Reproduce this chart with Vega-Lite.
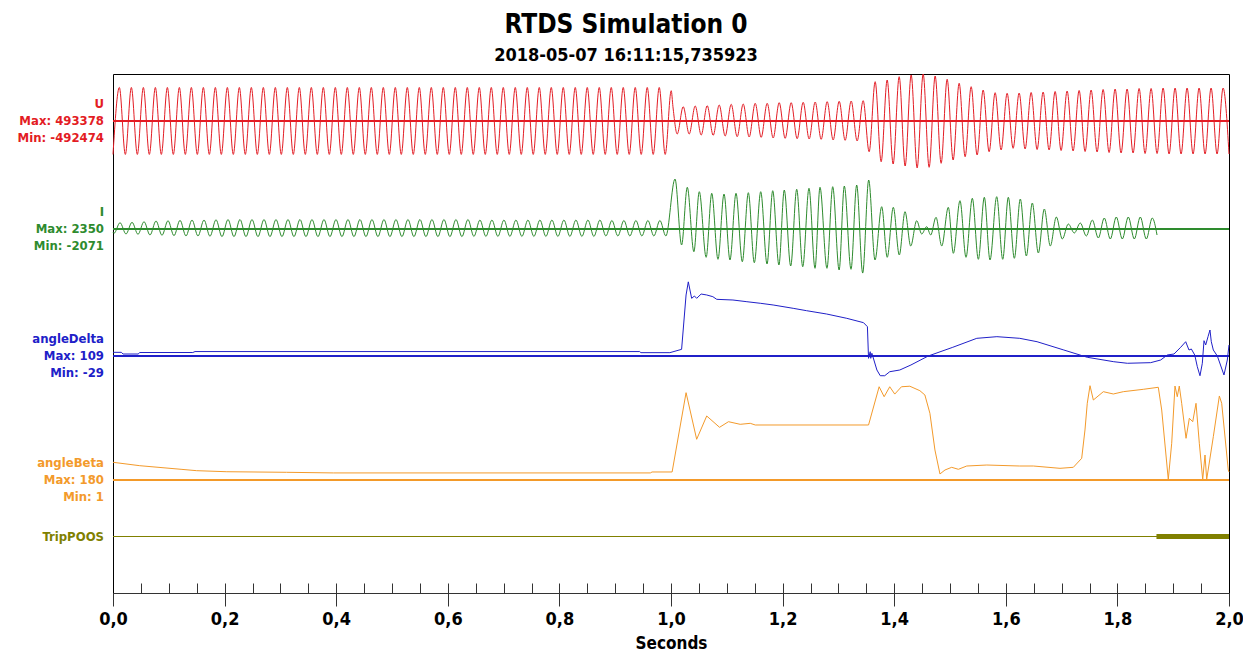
{
"$schema": "https://vega.github.io/schema/vega-lite/v6.json",
"autosize": {"type": "none"},
"padding": {"left": 113, "top": 74, "right": 14, "bottom": 58},
"width": 1116,
"height": 519,
"background": "white",
"config": {"font": "DejaVu Sans Condensed, DejaVu Sans", "view": {"stroke": "#000000", "strokeWidth": 1}},
"title": {"text": "RTDS Simulation 0", "subtitle": "2018-05-07 16:11:15,735923", "font": "DejaVu Sans Condensed, DejaVu Sans", "subtitleFont": "DejaVu Sans Condensed, DejaVu Sans", "fontSize": 26, "subtitleFontSize": 18, "fontWeight": "bold", "subtitleFontWeight": "bold", "color": "#000000", "subtitleColor": "#000000", "anchor": "middle", "frame": "group", "dx": -45, "offset": 7, "subtitlePadding": 9},
"datasets": {
"U": [
{"t":0,"v":-351000},{"t":0.0114,"v":352000},{"t":0.0221,"v":-351000},{"t":0.0329,"v":352000},{"t":0.0436,"v":-351000},{"t":0.0544,"v":352000},{"t":0.0651,"v":-351000},{"t":0.0759,"v":352000},{"t":0.0866,"v":-351000},{"t":0.0974,"v":352000},
{"t":0.1081,"v":-351000},{"t":0.1189,"v":352000},{"t":0.1296,"v":-351000},{"t":0.1404,"v":352000},{"t":0.1511,"v":-351000},{"t":0.1619,"v":352000},{"t":0.1726,"v":-351000},{"t":0.1834,"v":352000},{"t":0.1941,"v":-351000},{"t":0.2049,"v":352000},
{"t":0.2156,"v":-351000},{"t":0.2264,"v":352000},{"t":0.2371,"v":-351000},{"t":0.2479,"v":352000},{"t":0.2586,"v":-351000},{"t":0.2694,"v":352000},{"t":0.2801,"v":-351000},{"t":0.2909,"v":352000},{"t":0.3016,"v":-351000},{"t":0.3124,"v":352000},
{"t":0.3231,"v":-351000},{"t":0.3339,"v":352000},{"t":0.3446,"v":-351000},{"t":0.3554,"v":352000},{"t":0.3661,"v":-351000},{"t":0.3769,"v":352000},{"t":0.3876,"v":-351000},{"t":0.3984,"v":352000},{"t":0.4091,"v":-351000},{"t":0.4199,"v":352000},
{"t":0.4306,"v":-351000},{"t":0.4414,"v":352000},{"t":0.4521,"v":-351000},{"t":0.4629,"v":352000},{"t":0.4736,"v":-351000},{"t":0.4844,"v":352000},{"t":0.4951,"v":-351000},{"t":0.5059,"v":352000},{"t":0.5166,"v":-351000},{"t":0.5274,"v":352000},
{"t":0.5381,"v":-351000},{"t":0.5489,"v":352000},{"t":0.5596,"v":-351000},{"t":0.5704,"v":352000},{"t":0.5811,"v":-351000},{"t":0.5919,"v":352000},{"t":0.6026,"v":-351000},{"t":0.6134,"v":352000},{"t":0.6241,"v":-351000},{"t":0.6349,"v":352000},
{"t":0.6456,"v":-351000},{"t":0.6564,"v":352000},{"t":0.6671,"v":-351000},{"t":0.6779,"v":352000},{"t":0.6886,"v":-351000},{"t":0.6994,"v":352000},{"t":0.7101,"v":-351000},{"t":0.7209,"v":352000},{"t":0.7316,"v":-351000},{"t":0.7424,"v":352000},
{"t":0.7531,"v":-351000},{"t":0.7639,"v":352000},{"t":0.7746,"v":-351000},{"t":0.7854,"v":352000},{"t":0.7961,"v":-351000},{"t":0.8069,"v":352000},{"t":0.8176,"v":-351000},{"t":0.8284,"v":352000},{"t":0.8391,"v":-351000},{"t":0.8499,"v":352000},
{"t":0.8606,"v":-351000},{"t":0.8714,"v":352000},{"t":0.8821,"v":-351000},{"t":0.8929,"v":352000},{"t":0.9036,"v":-351000},{"t":0.9144,"v":352000},{"t":0.9251,"v":-351000},{"t":0.9359,"v":352000},{"t":0.9466,"v":-351000},{"t":0.9574,"v":352000},
{"t":0.9681,"v":-351000},{"t":0.9789,"v":352000},{"t":0.9896,"v":-351000},{"t":1.0004,"v":318000},{"t":1.0035,"v":150000},
{"t":1.0111,"v":-136500},{"t":1.0219,"v":150000},{"t":1.0326,"v":-136500},{"t":1.0434,"v":157500},{"t":1.0541,"v":-147000},{"t":1.0649,"v":160700},{"t":1.0756,"v":-150200},{"t":1.0864,"v":168000},
{"t":1.0971,"v":-157500},{"t":1.1079,"v":175400},{"t":1.1186,"v":-164900},{"t":1.1294,"v":178500},{"t":1.1401,"v":-168000},{"t":1.1509,"v":185900},{"t":1.1616,"v":-171200},{"t":1.1724,"v":185900},
{"t":1.1831,"v":-178500},{"t":1.1939,"v":192200},{"t":1.2046,"v":-181700},{"t":1.2154,"v":192200},{"t":1.2261,"v":-185900},{"t":1.2369,"v":196400},{"t":1.2476,"v":-189000},{"t":1.2584,"v":199500},
{"t":1.2691,"v":-192200},{"t":1.2799,"v":202700},{"t":1.2906,"v":-199500},{"t":1.3014,"v":206900},{"t":1.3121,"v":-202700},{"t":1.3229,"v":210000},{"t":1.3336,"v":-210000},{"t":1.3444,"v":213200},
{"t":1.3551,"v":-322400},{"t":1.3659,"v":412700},{"t":1.3766,"v":-427400},{"t":1.3874,"v":430500},{"t":1.3981,"v":-451500},{"t":1.4089,"v":465200},{"t":1.4196,"v":-472500},{"t":1.4304,"v":483000},
{"t":1.4411,"v":-492474},{"t":1.4519,"v":493378},{"t":1.4626,"v":-486200},{"t":1.4734,"v":472500},{"t":1.4841,"v":-444200},{"t":1.4949,"v":437900},{"t":1.5056,"v":-409500},{"t":1.5164,"v":395900},
{"t":1.5271,"v":-374900},{"t":1.5379,"v":360200},{"t":1.5486,"v":-357000},{"t":1.5594,"v":325500},{"t":1.5701,"v":-322400},{"t":1.5809,"v":297200},{"t":1.5916,"v":-304500},{"t":1.6024,"v":290900},
{"t":1.6131,"v":-286700},{"t":1.6239,"v":294000},{"t":1.6346,"v":-294000},{"t":1.6454,"v":299300},{"t":1.6561,"v":-299300},{"t":1.6669,"v":304500},{"t":1.6776,"v":-304500},{"t":1.6884,"v":309800},
{"t":1.6991,"v":-309800},{"t":1.7099,"v":315000},{"t":1.7206,"v":-315000},{"t":1.7314,"v":320300},{"t":1.7421,"v":-320300},{"t":1.7529,"v":325500},{"t":1.7636,"v":-325500},{"t":1.7744,"v":330800},
{"t":1.7851,"v":-330800},{"t":1.7959,"v":336000},{"t":1.8066,"v":-336000},{"t":1.8174,"v":336000},{"t":1.8281,"v":-336000},{"t":1.8389,"v":341300},{"t":1.8496,"v":-341300},{"t":1.8604,"v":341300},
{"t":1.8711,"v":-341300},{"t":1.8819,"v":346500},{"t":1.8926,"v":-346500},{"t":1.9034,"v":346500},{"t":1.9141,"v":-346500},{"t":1.9249,"v":346500},{"t":1.9356,"v":-346500},{"t":1.9464,"v":346500},
{"t":1.9571,"v":-346500},{"t":1.9679,"v":346500},{"t":1.9786,"v":-346500},{"t":1.9894,"v":346500},{"t":2.0,"v":-346500}
],
"I": [
{"t":0,"v":-150},{"t":0.0018,"v":-202},{"t":0.0126,"v":296},{"t":0.0233,"v":-235},{"t":0.0341,"v":315},{"t":0.0448,"v":-249},{"t":0.0556,"v":343},{"t":0.0663,"v":-282},{"t":0.0771,"v":376},
{"t":0.0878,"v":-296},{"t":0.0986,"v":390},{"t":0.1093,"v":-315},{"t":0.1201,"v":409},{"t":0.1308,"v":-329},{"t":0.1416,"v":423},{"t":0.1523,"v":-329},{"t":0.1631,"v":423},{"t":0.1738,"v":-343},{"t":0.1846,"v":437},
{"t":0.1953,"v":-362},{"t":0.2061,"v":447},{"t":0.2168,"v":-362},{"t":0.2276,"v":447},{"t":0.2383,"v":-362},{"t":0.2491,"v":447},{"t":0.2598,"v":-362},{"t":0.2706,"v":447},{"t":0.2813,"v":-362},{"t":0.2921,"v":447},
{"t":0.3028,"v":-362},{"t":0.3136,"v":447},{"t":0.3243,"v":-362},{"t":0.3351,"v":447},{"t":0.3458,"v":-362},{"t":0.3566,"v":447},{"t":0.3673,"v":-362},{"t":0.3781,"v":447},{"t":0.3888,"v":-362},{"t":0.3996,"v":447},
{"t":0.4103,"v":-362},{"t":0.4211,"v":447},{"t":0.4318,"v":-362},{"t":0.4426,"v":447},{"t":0.4533,"v":-362},{"t":0.4641,"v":447},{"t":0.4748,"v":-362},{"t":0.4856,"v":447},{"t":0.4963,"v":-362},{"t":0.5071,"v":447},
{"t":0.5178,"v":-362},{"t":0.5286,"v":447},{"t":0.5393,"v":-362},{"t":0.5501,"v":447},{"t":0.5608,"v":-362},{"t":0.5716,"v":447},{"t":0.5823,"v":-362},{"t":0.5931,"v":447},{"t":0.6038,"v":-362},{"t":0.6146,"v":447},
{"t":0.6253,"v":-362},{"t":0.6361,"v":447},{"t":0.6468,"v":-350},{"t":0.6576,"v":423},{"t":0.6683,"v":-350},{"t":0.6791,"v":423},{"t":0.6898,"v":-350},{"t":0.7006,"v":423},{"t":0.7113,"v":-350},{"t":0.7221,"v":423},
{"t":0.7328,"v":-350},{"t":0.7436,"v":423},{"t":0.7543,"v":-350},{"t":0.7651,"v":423},{"t":0.7758,"v":-350},{"t":0.7866,"v":423},{"t":0.7973,"v":-350},{"t":0.8081,"v":423},{"t":0.8188,"v":-350},{"t":0.8296,"v":423},
{"t":0.8403,"v":-350},{"t":0.8511,"v":423},{"t":0.8618,"v":-350},{"t":0.8726,"v":423},{"t":0.8833,"v":-329},{"t":0.8941,"v":400},{"t":0.9048,"v":-329},{"t":0.9156,"v":400},{"t":0.9263,"v":-329},{"t":0.9371,"v":400},
{"t":0.9478,"v":-329},{"t":0.9586,"v":400},{"t":0.9693,"v":-329},{"t":0.9801,"v":400},{"t":0.9908,"v":-329},
{"t":1.0072,"v":2350},{"t":1.019,"v":-752},{"t":1.0292,"v":1960},{"t":1.041,"v":-1067},{"t":1.0507,"v":1753},{"t":1.063,"v":-1330},{"t":1.073,"v":1678},{"t":1.0842,"v":-1424},
{"t":1.095,"v":1645},{"t":1.1057,"v":-1457},{"t":1.1165,"v":1678},{"t":1.1278,"v":-1537},{"t":1.1386,"v":1706},{"t":1.1493,"v":-1584},{"t":1.1608,"v":1753},{"t":1.1721,"v":-1645},
{"t":1.1823,"v":1800},{"t":1.1934,"v":-1692},{"t":1.203,"v":1833},{"t":1.2145,"v":-1739},{"t":1.2253,"v":1866},{"t":1.2361,"v":-1772},{"t":1.2473,"v":1913},{"t":1.2581,"v":-1847},
{"t":1.267,"v":1960},{"t":1.2795,"v":-1847},{"t":1.2898,"v":1988},{"t":1.3013,"v":-1927},{"t":1.3106,"v":2021},{"t":1.3226,"v":-1894},{"t":1.3328,"v":2068},{"t":1.3435,"v":-2071},
{"t":1.3543,"v":2303},{"t":1.3656,"v":-1457},{"t":1.3776,"v":1048},{"t":1.3875,"v":-1330},{"t":1.3984,"v":1020},{"t":1.4091,"v":-1222},{"t":1.4194,"v":813},{"t":1.4296,"v":-799},
{"t":1.4403,"v":390},{"t":1.4493,"v":-235},{"t":1.4582,"v":108},{"t":1.4654,"v":-282},{"t":1.4749,"v":550},{"t":1.4852,"v":-799},{"t":1.497,"v":1020},{"t":1.506,"v":-1142},
{"t":1.5179,"v":1330},{"t":1.5287,"v":-1330},{"t":1.54,"v":1443},{"t":1.5508,"v":-1424},{"t":1.5615,"v":1490},{"t":1.5717,"v":-1457},{"t":1.5837,"v":1518},{"t":1.5945,"v":-1424},
{"t":1.6045,"v":1490},{"t":1.6153,"v":-1377},{"t":1.626,"v":1410},{"t":1.6368,"v":-1269},{"t":1.6475,"v":1222},{"t":1.6583,"v":-1128},{"t":1.669,"v":940},{"t":1.6798,"v":-799},
{"t":1.6905,"v":564},{"t":1.7013,"v":-470},{"t":1.712,"v":235},{"t":1.7228,"v":-188},{"t":1.7335,"v":282},{"t":1.7443,"v":-329},{"t":1.755,"v":423},{"t":1.7658,"v":-423},
{"t":1.7765,"v":517},{"t":1.7873,"v":-470},{"t":1.798,"v":564},{"t":1.8088,"v":-470},{"t":1.8195,"v":564},{"t":1.8303,"v":-470},{"t":1.841,"v":564},{"t":1.8518,"v":-470},
{"t":1.8625,"v":517},{"t":1.871,"v":-282}
],
"angleDelta": [
{"t":0,"v":5.4},{"t":0.015,"v":5.4},{"t":0.018,"v":2.9},{"t":0.045,"v":2.9},{"t":0.048,"v":5.1},{"t":0.143,"v":5.1},{"t":0.147,"v":6.5},{"t":0.944,"v":6.5},{"t":0.946,"v":4.9},{"t":0.998,"v":4.9},
{"t":1.019,"v":9.8},{"t":1.027,"v":89.7},{"t":1.031,"v":109},{"t":1.037,"v":84.8},{"t":1.042,"v":88.2},{"t":1.046,"v":84.8},{"t":1.054,"v":91.1},{"t":1.064,"v":89.7},{"t":1.075,"v":87.2},{"t":1.082,"v":83.3},
{"t":1.111,"v":82.3},{"t":1.136,"v":79.8},{"t":1.16,"v":77.5},{"t":1.183,"v":75},{"t":1.219,"v":70.1},{"t":1.243,"v":66.6},{"t":1.279,"v":61.7},{"t":1.315,"v":55.4},{"t":1.345,"v":49},{"t":1.352,"v":43.1},
{"t":1.354,"v":-3.4},{"t":1.357,"v":6.3},{"t":1.358,"v":-3.4},{"t":1.36,"v":4},{"t":1.369,"v":-20.6},{"t":1.375,"v":-29},{"t":1.383,"v":-29},{"t":1.392,"v":-23.1},{"t":1.41,"v":-20.6},{"t":1.43,"v":-13.2},
{"t":1.461,"v":0},{"t":1.505,"v":12.8},{"t":1.548,"v":26},{"t":1.584,"v":28.4},{"t":1.625,"v":26},{"t":1.656,"v":21},{"t":1.704,"v":8.8},{"t":1.746,"v":-1.9},{"t":1.7935,"v":-8.4},{"t":1.8178,"v":-10.7},
{"t":1.8596,"v":-9.8},{"t":1.8776,"v":-5.9},{"t":1.8895,"v":1.5},{"t":1.9014,"v":2.9},{"t":1.9134,"v":12.8},{"t":1.9224,"v":21},{"t":1.9283,"v":8.8},{"t":1.9325,"v":10.3},{"t":1.9386,"v":1.5},{"t":1.9432,"v":-15.7},
{"t":1.948,"v":-29},{"t":1.9522,"v":-10.7},{"t":1.9552,"v":22.5},{"t":1.9582,"v":16.2},{"t":1.9624,"v":28.4},{"t":1.9659,"v":38.2},{"t":1.9683,"v":21},{"t":1.9719,"v":8.8},{"t":1.9791,"v":0},{"t":1.991,"v":-27.9},
{"t":1.997,"v":-5.9},{"t":2.0,"v":16.2}
],
"angleBeta": [
{"t":0,"v":33.8},{"t":0.048,"v":27.3},{"t":0.122,"v":20.4},{"t":0.15,"v":17.8},{"t":0.204,"v":15.8},{"t":0.311,"v":14.7},{"t":0.395,"v":13.5},{"t":0.963,"v":13.5},{"t":0.966,"v":15.3},{"t":1.002,"v":15.3},
{"t":1.027,"v":166.7},{"t":1.046,"v":77.7},{"t":1.064,"v":122.2},{"t":1.087,"v":100.6},{"t":1.103,"v":111.3},{"t":1.124,"v":106.3},{"t":1.142,"v":108.2},{"t":1.151,"v":105},{"t":1.354,"v":105},
{"t":1.373,"v":178},{"t":1.382,"v":159},{"t":1.392,"v":178},{"t":1.401,"v":164},{"t":1.413,"v":178},{"t":1.428,"v":179},{"t":1.446,"v":170.5},{"t":1.455,"v":162.3},{"t":1.464,"v":127.3},{"t":1.473,"v":57.3},
{"t":1.482,"v":11.5},{"t":1.491,"v":19.1},{"t":1.503,"v":24.2},{"t":1.515,"v":20.4},{"t":1.53,"v":26.7},{"t":1.566,"v":28.6},{"t":1.625,"v":26.7},{"t":1.6493,"v":26.7},{"t":1.6971,"v":22.3},{"t":1.721,"v":24.2},
{"t":1.736,"v":41.4},{"t":1.7419,"v":95.5},{"t":1.746,"v":146.4},{"t":1.7509,"v":180},{"t":1.7569,"v":152.7},{"t":1.7748,"v":168.6},{"t":1.7927,"v":164.2},{"t":1.8106,"v":168.6},{"t":1.8464,"v":173.1},{"t":1.8733,"v":177},
{"t":1.8794,"v":133.6},{"t":1.8912,"v":1},{"t":1.8973,"v":70.1},{"t":1.9032,"v":179.4},{"t":1.9073,"v":159},{"t":1.9109,"v":179.4},{"t":1.9152,"v":146.4},{"t":1.923,"v":79.6},{"t":1.9289,"v":117.8},{"t":1.935,"v":111.3},
{"t":1.9409,"v":146.4},{"t":1.9468,"v":70.1},{"t":1.9529,"v":1},{"t":1.957,"v":47.7},{"t":1.96,"v":1},{"t":1.9719,"v":82.7},{"t":1.9827,"v":160.4},{"t":1.9869,"v":146.4},{"t":1.9987,"v":19.1},{"t":2.0,"v":15.3}
],
"TripPOOS": [{"start":1.87,"end":2.0,"state":1}],
"minorTicks": [{"t":0.05},{"t":0.1},{"t":0.15},{"t":0.2},{"t":0.25},{"t":0.3},{"t":0.35},{"t":0.4},{"t":0.45},{"t":0.5},{"t":0.55},{"t":0.6},{"t":0.65},{"t":0.7},{"t":0.75},{"t":0.8},{"t":0.85},{"t":0.9},{"t":0.95},{"t":1.0},{"t":1.05},{"t":1.1},{"t":1.15},{"t":1.2},{"t":1.25},{"t":1.3},{"t":1.35},{"t":1.4},{"t":1.45},{"t":1.5},{"t":1.55},{"t":1.6},{"t":1.65},{"t":1.7},{"t":1.75},{"t":1.8},{"t":1.85},{"t":1.9},{"t":1.95}]
},
"layer": [
{"data": {"name": "U"}, "layer": [
 {"mark": {"type": "line", "color": "#e31c24", "strokeWidth": 1, "interpolate": "monotone"},
  "encoding": {
   "x": {"field": "t", "type": "quantitative", "scale": {"domain": [0, 2], "nice": false, "zero": false},
    "axis": {"values": [0, 0.2, 0.4, 0.6, 0.8, 1.0, 1.2, 1.4, 1.6, 1.8, 2.0], "labelExpr": "replace(format(datum.value, '.1f'), '.', ',')", "tickSize": 13, "tickColor": "#333333", "tickWidth": 1, "domainColor": "#333333", "domainWidth": 1, "grid": false, "labelFont": "DejaVu Sans Condensed, DejaVu Sans", "labelFontSize": 18, "labelFontWeight": "bold", "labelColor": "#000000", "labelPadding": 4, "labelFlush": false, "labelOverlap": false, "title": "Seconds", "titleFont": "DejaVu Sans Condensed, DejaVu Sans", "titleFontSize": 17, "titleFontWeight": "bold", "titleColor": "#000000", "titlePadding": 7}},
   "y": {"field": "v", "type": "quantitative", "scale": {"domain": [-4956000, 493500], "nice": false, "zero": false}, "axis": null}}},
 {"mark": {"type": "rule", "color": "#e31c24", "strokeWidth": 1}, "encoding": {"y": {"datum": 0, "axis": null}}},
 {"data": {"values": [{"label": "U\nMax: 493378\nMin: -492474"}]},
  "mark": {"type": "text", "align": "right", "baseline": "middle", "dx": -9, "dy": -17, "lineBreak": "\n", "lineHeight": 17, "fontSize": 13, "fontWeight": "bold", "font": "DejaVu Sans Condensed, DejaVu Sans", "color": "#e31c24"},
  "encoding": {"x": {"datum": 0}, "y": {"datum": 0, "axis": null}, "text": {"field": "label"}}}
]},
{"data": {"name": "I"}, "layer": [
 {"mark": {"type": "line", "color": "#2e8b2e", "strokeWidth": 1, "interpolate": "monotone"},
  "encoding": {
   "x": {"field": "t", "type": "quantitative", "scale": {"domain": [0, 2], "nice": false, "zero": false}, "axis": null},
   "y": {"field": "v", "type": "quantitative", "scale": {"domain": [-17108, 7285], "nice": false, "zero": false}, "axis": null}}},
 {"mark": {"type": "rule", "color": "#2e8b2e", "strokeWidth": 1}, "encoding": {"y": {"datum": 0, "axis": null}}},
 {"data": {"values": [{"label": "I\nMax: 2350\nMin: -2071"}]},
  "mark": {"type": "text", "align": "right", "baseline": "middle", "dx": -9, "dy": -17, "lineBreak": "\n", "lineHeight": 17, "fontSize": 13, "fontWeight": "bold", "font": "DejaVu Sans Condensed, DejaVu Sans", "color": "#2e8b2e"},
  "encoding": {"x": {"datum": 0, "axis": null}, "y": {"datum": 0, "axis": null}, "text": {"field": "label"}}}
]},
{"data": {"name": "minorTicks"},
 "mark": {"type": "tick", "orient": "vertical", "color": "#333333", "thickness": 1, "size": 10},
 "encoding": {
  "x": {"field": "t", "type": "quantitative", "scale": {"domain": [0, 2], "nice": false, "zero": false},
   "axis": {"orient": "top", "offset": -519, "values": [0.05,0.1,0.15,0.2,0.25,0.3,0.35,0.4,0.45,0.5,0.55,0.6,0.65,0.7,0.75,0.8,0.85,0.9,0.95,1.0,1.05,1.1,1.15,1.2,1.25,1.3,1.35,1.4,1.45,1.5,1.55,1.6,1.65,1.7,1.75,1.8,1.85,1.9,1.95], "tickSize": 10, "tickColor": "#333333", "tickWidth": 1, "domain": false, "labels": true, "labelOpacity": 0, "labelOverlap": false, "labelFlush": false, "grid": false, "title": null}},
  "opacity": {"value": 0}}},
{"data": {"name": "angleDelta"}, "layer": [
 {"mark": {"type": "line", "color": "#2020c8", "strokeWidth": 1},
  "encoding": {
   "x": {"field": "t", "type": "quantitative", "scale": {"domain": [0, 2], "nice": false, "zero": false}, "axis": null},
   "y": {"field": "v", "type": "quantitative", "scale": {"domain": [-348.39, 414.54], "nice": false, "zero": false}, "axis": null}}},
 {"mark": {"type": "rule", "color": "#2020c8", "strokeWidth": 1}, "encoding": {"y": {"datum": 0, "axis": null}}},
 {"data": {"values": [{"label": "angleDelta\nMax: 109\nMin: -29"}]},
  "mark": {"type": "text", "align": "right", "baseline": "middle", "dx": -9, "dy": -17, "lineBreak": "\n", "lineHeight": 17, "fontSize": 13, "fontWeight": "bold", "font": "DejaVu Sans Condensed, DejaVu Sans", "color": "#2020c8"},
  "encoding": {"x": {"datum": 0, "axis": null}, "y": {"datum": 0, "axis": null}, "text": {"field": "label"}}}
]},
{"data": {"name": "angleBeta"}, "layer": [
 {"mark": {"type": "line", "color": "#f39a2b", "strokeWidth": 1},
  "encoding": {
   "x": {"field": "t", "type": "quantitative", "scale": {"domain": [0, 2], "nice": false, "zero": false}, "axis": null},
   "y": {"field": "v", "type": "quantitative", "scale": {"domain": [-215.72, 775.05], "nice": false, "zero": false}, "axis": null}}},
 {"mark": {"type": "rule", "color": "#f39a2b", "strokeWidth": 1}, "encoding": {"y": {"datum": 0, "axis": null}}},
 {"data": {"values": [{"label": "angleBeta\nMax: 180\nMin: 1"}]},
  "mark": {"type": "text", "align": "right", "baseline": "middle", "dx": -9, "dy": -17, "lineBreak": "\n", "lineHeight": 17, "fontSize": 13, "fontWeight": "bold", "font": "DejaVu Sans Condensed, DejaVu Sans", "color": "#f39a2b"},
  "encoding": {"x": {"datum": 0, "axis": null}, "y": {"datum": 0, "axis": null}, "text": {"field": "label"}}}
]},
{"data": {"name": "TripPOOS"}, "layer": [
 {"mark": {"type": "rule", "color": "#808000", "strokeWidth": 5},
  "encoding": {
   "x": {"field": "start", "type": "quantitative", "scale": {"domain": [0, 2], "nice": false, "zero": false}, "axis": null},
   "x2": {"field": "end"},
   "y": {"datum": 0, "scale": {"domain": [-56.5, 462.5], "nice": false, "zero": false}, "axis": null}}},
 {"mark": {"type": "rule", "color": "#808000", "strokeWidth": 1}, "encoding": {"y": {"datum": 0, "axis": null}}},
 {"data": {"values": [{"label": "TripPOOS"}]},
  "mark": {"type": "text", "align": "right", "baseline": "middle", "dx": -9, "fontSize": 13, "fontWeight": "bold", "font": "DejaVu Sans Condensed, DejaVu Sans", "color": "#808000"},
  "encoding": {"x": {"datum": 0, "axis": null}, "y": {"datum": 0, "axis": null}, "text": {"field": "label"}}}
]}
],
"resolve": {"scale": {"y": "independent"}, "axis": {"x": "independent"}}
}
